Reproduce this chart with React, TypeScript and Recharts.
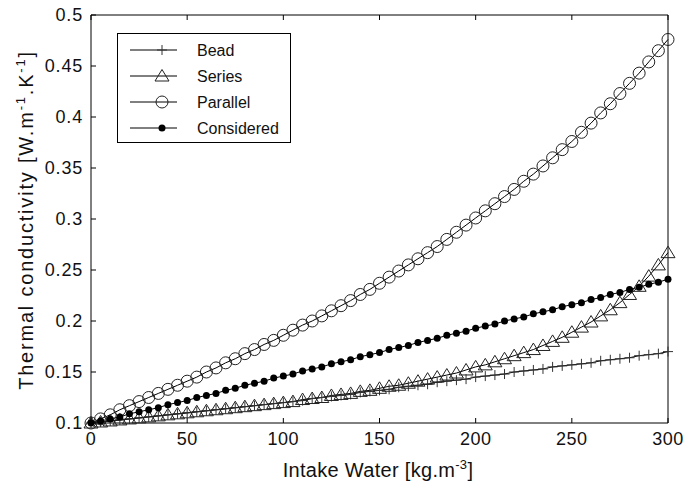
import React from 'react';
import { LineChart, Line, XAxis, YAxis } from 'recharts';

const intake = [
  0, 5, 10, 15, 20, 25, 30, 35, 40, 45, 50, 55, 60, 65, 70, 75, 80, 85, 90, 95, 100,
  105, 110, 115, 120, 125, 130, 135, 140, 145, 150, 155, 160, 165, 170, 175, 180, 185, 190, 195, 200,
  205, 210, 215, 220, 225, 230, 235, 240, 245, 250, 255, 260, 265, 270, 275, 280, 285, 290, 295, 300,
];

const bead = [
  0.1, 0.101, 0.102, 0.103, 0.104, 0.105, 0.106, 0.107, 0.108, 0.109, 0.11, 0.111, 0.112, 0.113, 0.114, 0.115, 0.116, 0.117, 0.118, 0.119, 0.12,
  0.121, 0.122, 0.124, 0.125, 0.126, 0.127, 0.128, 0.13, 0.131, 0.132, 0.133, 0.135, 0.136, 0.137, 0.138, 0.14, 0.141, 0.142, 0.143, 0.145,
  0.146, 0.147, 0.148, 0.15, 0.151, 0.152, 0.153, 0.155, 0.156, 0.157, 0.158, 0.159, 0.161, 0.162, 0.163, 0.164, 0.166, 0.167, 0.168, 0.17,
];

const series = [
  0.1, 0.101, 0.102, 0.103, 0.104, 0.105, 0.106, 0.107, 0.108, 0.109, 0.11, 0.111, 0.112, 0.113, 0.114, 0.115, 0.116, 0.117, 0.118, 0.119, 0.12,
  0.121, 0.123, 0.124, 0.125, 0.127, 0.128, 0.129, 0.131, 0.132, 0.134, 0.136, 0.137, 0.139, 0.141, 0.143, 0.145, 0.147, 0.149, 0.152, 0.155,
  0.157, 0.16, 0.163, 0.166, 0.169, 0.172, 0.176, 0.18, 0.184, 0.189, 0.194, 0.199, 0.205, 0.211, 0.218, 0.226, 0.234, 0.244, 0.255, 0.267,
];

const parallel = [
  0.1, 0.104, 0.108, 0.113, 0.117, 0.121, 0.125, 0.129, 0.133, 0.137, 0.141, 0.145, 0.15, 0.154, 0.159, 0.163, 0.168, 0.172, 0.177, 0.181, 0.186,
  0.191, 0.196, 0.2, 0.205, 0.21, 0.215, 0.22, 0.226, 0.231, 0.237, 0.243, 0.249, 0.255, 0.261, 0.267, 0.273, 0.28, 0.287, 0.294, 0.301,
  0.308, 0.315, 0.322, 0.329, 0.337, 0.344, 0.352, 0.36, 0.368, 0.376, 0.385, 0.394, 0.404, 0.413, 0.423, 0.433, 0.443, 0.454, 0.465, 0.476,
];

const considered = [
  0.1, 0.102, 0.104, 0.106, 0.109, 0.111, 0.113, 0.115, 0.118, 0.12, 0.122, 0.125, 0.127, 0.129, 0.132, 0.134, 0.137, 0.139, 0.141, 0.144, 0.146,
  0.148, 0.151, 0.153, 0.155, 0.158, 0.16, 0.162, 0.165, 0.167, 0.169, 0.172, 0.174, 0.176, 0.179, 0.181, 0.183, 0.186, 0.188, 0.19, 0.193,
  0.195, 0.197, 0.2, 0.202, 0.204, 0.207, 0.209, 0.211, 0.214, 0.216, 0.218, 0.221, 0.223, 0.226, 0.228, 0.231, 0.233, 0.236, 0.238, 0.241,
];

const xTicks = [0, 50, 100, 150, 200, 250, 300];
const yTicks = [0.1, 0.15, 0.2, 0.25, 0.3, 0.35, 0.4, 0.45, 0.5];

const data = intake.map((x, i) => ({
  x,
  bead: bead[i],
  series: series[i],
  parallel: parallel[i],
  considered: considered[i],
}));

const FONT = '"Liberation Sans", Arial, sans-serif';
const TICK = 5;

const PlusDot = (p: any) => (
  <g key={`b${p.index}`}>
    <line x1={p.cx} y1={p.cy - 5} x2={p.cx} y2={p.cy + 5} stroke="#333" strokeWidth={1} />
    <line x1={p.cx - 5} y1={p.cy} x2={p.cx + 5} y2={p.cy} stroke="#333" strokeWidth={1} />
  </g>
);

const TriDot = (p: any) => (
  <polygon
    key={`s${p.index}`}
    points={`${p.cx},${p.cy - 6.5} ${p.cx - 7},${p.cy + 5} ${p.cx + 7},${p.cy + 5}`}
    fill="none"
    stroke="#222"
    strokeWidth={1}
  />
);

const CircleDot = (p: any) => (
  <circle key={`p${p.index}`} cx={p.cx} cy={p.cy} r={6} fill="none" stroke="#222" strokeWidth={1} />
);

const FilledDot = (p: any) => (
  <circle key={`c${p.index}`} cx={p.cx} cy={p.cy} r={3.5} fill="#000" stroke="none" />
);

// ticks point inwards, labels only on bottom / left
const BottomTick = ({ x, y, payload }: any) => (
  <g>
    <line x1={x} y1={y} x2={x} y2={y - TICK} stroke="#000" />
    <text x={x} y={y + 22} textAnchor="middle" fontFamily={FONT} fontSize={18} letterSpacing={0.5} fill="#111">
      {payload.value}
    </text>
  </g>
);
const TopTick = ({ x, y }: any) => <line x1={x} y1={y} x2={x} y2={y + TICK} stroke="#000" />;
const LeftTick = ({ x, y, payload }: any) => (
  <g>
    <line x1={x} y1={y} x2={x + TICK} y2={y} stroke="#000" />
    <text x={x - 8} y={y + 6} textAnchor="end" fontFamily={FONT} fontSize={18} letterSpacing={0.8} fill="#111">
      {String(Number(payload.value.toFixed(2)))}
    </text>
  </g>
);
const RightTick = ({ x, y }: any) => <line x1={x} y1={y} x2={x - TICK} y2={y} stroke="#000" />;

const legendItems = [
  { name: 'Bead', Dot: PlusDot },
  { name: 'Series', Dot: TriDot },
  { name: 'Parallel', Dot: CircleDot },
  { name: 'Considered', Dot: FilledDot },
];

const LegendBox = () => (
  <div
    style={{
      position: 'absolute',
      left: 117,
      top: 33,
      border: '1px solid #000',
      background: '#fff',
      width: 172,
      height: 108,
      boxSizing: 'content-box',
    }}
  >
    <svg width={172} height={108} style={{ display: 'block' }}>
      {legendItems.map((it, i) => {
        const cy = 16 + i * 26;
        return (
          <g key={it.name}>
            <line x1={12} y1={cy} x2={59} y2={cy} stroke="#000" />
            {it.Dot({ cx: 44, cy, index: 'l' + i })}
            <text x={79} y={cy + 6} fontFamily={FONT} fontSize={16} fill="#111">
              {it.name}
            </text>
          </g>
        );
      })}
    </svg>
  </div>
);

export default function App() {
  return (
    <div style={{ position: 'absolute', left: 0, top: 0, width: 687, height: 484, background: '#fff' }}>
      <LineChart width={687} height={484} data={data} margin={{ top: 14, right: 18, bottom: 60, left: 90 }}>
        <XAxis
          dataKey="x"
          type="number"
          domain={[0, 300]}
          ticks={xTicks}
          height={1}
          tickSize={0}
          tickMargin={0}
          tick={<BottomTick />}
          axisLine={{ stroke: '#000' }}
          tickLine={false}
        />
        <XAxis
          xAxisId="top"
          orientation="top"
          dataKey="x"
          type="number"
          domain={[0, 300]}
          ticks={xTicks}
          height={1}
          tickSize={0}
          tickMargin={0}
          tick={<TopTick />}
          axisLine={{ stroke: '#000' }}
          tickLine={false}
        />
        <YAxis
          type="number"
          domain={[0.1, 0.5]}
          ticks={yTicks}
          width={1}
          tickSize={0}
          tickMargin={0}
          tick={<LeftTick />}
          axisLine={{ stroke: '#000' }}
          tickLine={false}
        />
        <YAxis
          yAxisId="right"
          orientation="right"
          type="number"
          domain={[0.1, 0.5]}
          ticks={yTicks}
          width={1}
          tickSize={0}
          tickMargin={0}
          tick={<RightTick />}
          axisLine={{ stroke: '#000' }}
          tickLine={false}
        />
        <Line dataKey="bead" name="Bead" stroke="#000" strokeWidth={1} dot={PlusDot} isAnimationActive={false} />
        <Line dataKey="series" name="Series" stroke="#000" strokeWidth={1} dot={TriDot} isAnimationActive={false} />
        <Line dataKey="parallel" name="Parallel" stroke="#000" strokeWidth={1} dot={CircleDot} isAnimationActive={false} />
        <Line dataKey="considered" name="Considered" stroke="#000" strokeWidth={1} dot={FilledDot} isAnimationActive={false} />
        <text x={378} y={477} textAnchor="middle" fontFamily={FONT} fontSize={20} letterSpacing={0.3} fill="#111">
          Intake Water [kg.m
          <tspan dy={-8} fontSize={13}>-3</tspan>
          <tspan dy={8}>]</tspan>
        </text>
        <text
          transform="translate(33,220) rotate(-90)"
          textAnchor="middle"
          fontFamily={FONT}
          fontSize={20}
          letterSpacing={1.8}
          fill="#111"
        >
          Thermal conductivity [W.m
          <tspan dy={-8} fontSize={13}>-1</tspan>
          <tspan dy={8}>.K</tspan>
          <tspan dy={-8} fontSize={13}>-1</tspan>
          <tspan dy={8}>]</tspan>
        </text>
      </LineChart>
      <LegendBox />
    </div>
  );
}
